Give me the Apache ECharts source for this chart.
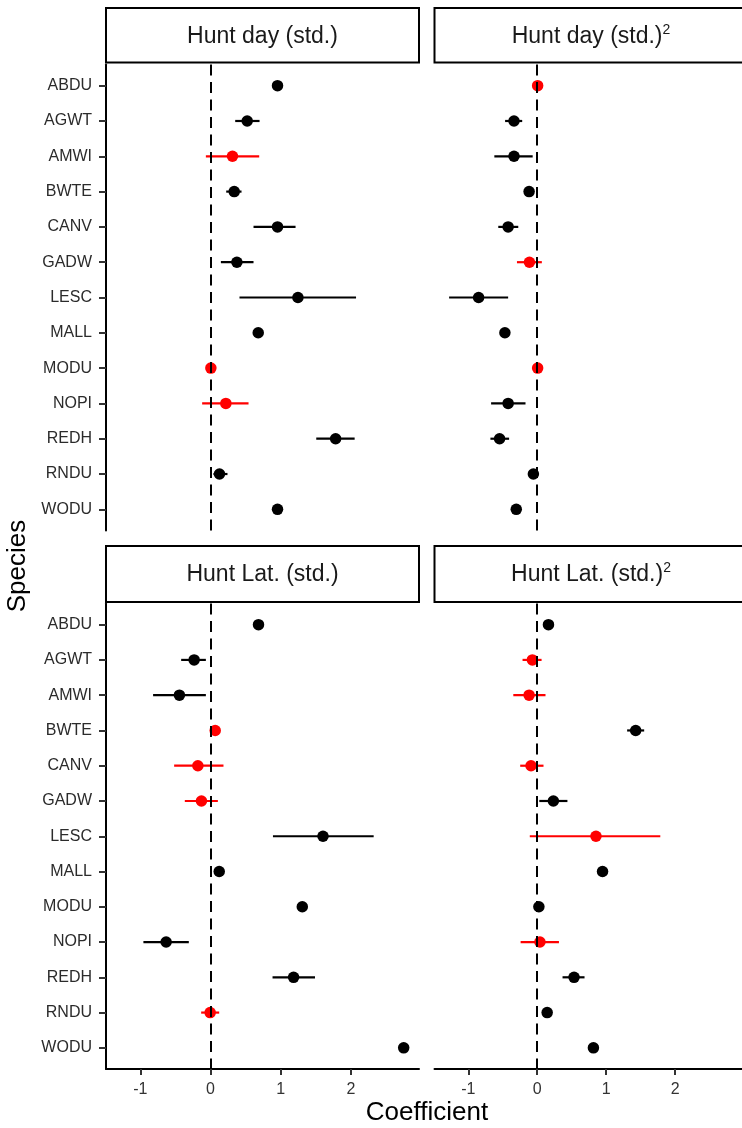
<!DOCTYPE html>
<html>
<head>
<meta charset="utf-8">
<script src="https://cdn.jsdelivr.net/npm/echarts@6/dist/echarts.min.js"></script>
<style>
  html, body { margin: 0; padding: 0; background: #ffffff; }
  #chart { width: 742px; height: 1128px; }
</style>
</head>
<body>
<div id="chart"></div>
<script>
// Species on the vertical axis (top to bottom)
const species = ['ABDU', 'AGWT', 'AMWI', 'BWTE', 'CANV', 'GADW', 'LESC',
                 'MALL', 'MODU', 'NOPI', 'REDH', 'RNDU', 'WODU'];

// Coefficient axis ticks
const xTicks = [-1, 0, 1, 2];

// Hunt day (std.)
const dayEst = [0.954, 0.522, 0.312, 0.337, 0.954, 0.375, 1.245, 0.679, 0.004, 0.218, 1.782, 0.127, 0.954];
const dayLo  = [0.930, 0.351, -0.067, 0.223, 0.612, 0.147, 0.412, 0.655, -0.020, -0.120, 1.506, 0.041, 0.930];
const dayHi  = [0.978, 0.698, 0.693, 0.441, 1.211, 0.612, 2.073, 0.703, 0.028, 0.541, 2.053, 0.241, 0.978];
const dayRed = [0, 0, 1, 0, 0, 0, 0, 0, 1, 1, 0, 0, 0];

// Hunt day (std.)^2
const daySqEst = [0.006, -0.337, -0.337, -0.118, -0.422, -0.113, -0.850, -0.469, 0.006, -0.422, -0.546, -0.056, -0.304];
const daySqLo  = [-0.018, -0.466, -0.622, -0.140, -0.565, -0.294, -1.278, -0.490, -0.018, -0.669, -0.679, -0.078, -0.325];
const daySqHi  = [0.030, -0.218, -0.066, -0.096, -0.275, 0.067, -0.422, -0.448, 0.030, -0.170, -0.408, -0.034, -0.283];
const daySqRed = [1, 0, 0, 0, 0, 1, 0, 0, 1, 0, 0, 0, 0];

// Hunt Lat. (std.)
const latEst = [0.683, -0.234, -0.444, 0.066, -0.181, -0.130, 1.602, 0.123, 1.307, -0.633, 1.183, -0.006, 2.752];
const latLo  = [0.660, -0.419, -0.819, 0.045, -0.519, -0.367, 0.889, 0.100, 1.285, -0.957, 0.883, -0.134, 2.730];
const latHi  = [0.706, -0.067, -0.067, 0.087, 0.184, 0.104, 2.324, 0.146, 1.329, -0.310, 1.488, 0.123, 2.774];
const latRed = [0, 0, 0, 1, 1, 1, 0, 0, 0, 0, 0, 1, 0];

// Hunt Lat. (std.)^2
const latSqEst = [0.163, -0.070, -0.118, 1.428, -0.090, 0.234, 0.852, 0.947, 0.024, 0.039, 0.534, 0.144, 0.815];
const latSqLo  = [0.140, -0.213, -0.347, 1.304, -0.247, 0.030, -0.108, 0.925, 0.002, -0.241, 0.367, 0.122, 0.793];
const latSqHi  = [0.186, 0.063, 0.120, 1.551, 0.091, 0.438, 1.785, 0.969, 0.046, 0.315, 0.686, 0.166, 0.837];
const latSqRed = [0, 1, 1, 0, 1, 0, 1, 0, 0, 1, 0, 0, 0];

const panels = [
  { title: 'Hunt day (std.)',  squared: false, est: dayEst,   lo: dayLo,   hi: dayHi,   red: dayRed },
  { title: 'Hunt day (std.)',  squared: true,  est: daySqEst, lo: daySqLo, hi: daySqHi, red: daySqRed },
  { title: 'Hunt Lat. (std.)', squared: false, est: latEst,   lo: latLo,   hi: latHi,   red: latRed },
  { title: 'Hunt Lat. (std.)', squared: true,  est: latSqEst, lo: latSqLo, hi: latSqHi, red: latSqRed }
];

const FONT = '"Liberation Sans", Arial, Helvetica, sans-serif';
const RED = '#ff0000';
const BLACK = '#000000';

// Panel layout (2 x 2 facets)
const colLeft = [106, 434.5];
const panelW = 313;
const rowTop = [64.5, 603.5];
const panelH = [466, 465.5];
const stripTop = [8, 546];
const stripH = [54.5, 56];

const grids = [], xAxes = [], yAxes = [], series = [], graphics = [];

panels.forEach((p, k) => {
  const row = Math.floor(k / 2), col = k % 2;
  const isBottom = row === 1, isLeft = col === 0;

  grids.push({ left: colLeft[col], top: rowTop[row], width: panelW, height: panelH[row], containLabel: false });

  xAxes.push({
    gridIndex: k, type: 'value', min: -1.49, max: 2.97,
    splitLine: { show: false },
    axisLine: { show: isBottom, onZero: false, lineStyle: { color: BLACK, width: 2 } },
    axisTick: { show: isBottom, length: 6, customValues: xTicks, lineStyle: { color: '#333333', width: 2 } },
    axisLabel: { show: isBottom, customValues: xTicks, margin: 13, fontSize: 16, color: '#333333', fontFamily: FONT }
  });

  yAxes.push({
    gridIndex: k, type: 'value', min: -0.6, max: 12.6, inverse: true,
    splitLine: { show: false },
    axisLine: { show: isLeft, onZero: false, lineStyle: { color: BLACK, width: 2 } },
    axisTick: { show: isLeft, length: 7, customValues: species.map((s, i) => i), lineStyle: { color: '#333333', width: 2 } },
    axisLabel: {
      show: isLeft, customValues: species.map((s, i) => i), margin: 14,
      fontSize: 16, color: '#2b2b2b', fontFamily: FONT,
      formatter: v => species[Math.round(v)]
    }
  });

  // dashed reference line at zero
  series.push({
    type: 'line', xAxisIndex: k, yAxisIndex: k, data: [], z: 1, silent: true,
    markLine: {
      silent: true, symbol: ['none', 'none'], label: { show: false },
      lineStyle: { color: BLACK, width: 2, type: [11, 6.5], opacity: 1 },
      emphasis: { disabled: true },
      data: [{ xAxis: 0 }]
    }
  });

  // confidence intervals
  series.push({
    type: 'custom', xAxisIndex: k, yAxisIndex: k, z: 2, silent: true,
    data: species.map((s, i) => [p.lo[i], p.hi[i], i, p.red[i]]),
    encode: { x: [0, 1], y: 2 },
    renderItem: (params, api) => {
      const a = api.coord([api.value(0), api.value(2)]);
      const b = api.coord([api.value(1), api.value(2)]);
      return {
        type: 'line',
        shape: { x1: a[0], y1: a[1], x2: b[0], y2: b[1] },
        style: { stroke: api.value(3) ? RED : BLACK, lineWidth: 2.2 }
      };
    }
  });

  // point estimates
  series.push({
    type: 'scatter', xAxisIndex: k, yAxisIndex: k, z: 3, silent: true,
    symbol: 'circle', symbolSize: 11.5,
    data: species.map((s, i) => ({
      value: [p.est[i], i],
      itemStyle: { color: p.red[i] ? RED : BLACK, opacity: 1 }
    }))
  });

  // facet strip
  const sx = colLeft[col], sy = stripTop[row];
  graphics.push({
    type: 'rect', z: 10,
    shape: { x: sx, y: sy, width: panelW, height: stripH[row] },
    style: { fill: '#ffffff', stroke: BLACK, lineWidth: 2 }
  });
  const stripText = p.squared ? '{m|' + p.title + '}{s|2}' : '{m|' + p.title + '}';
  graphics.push({
    type: 'text', z: 11,
    x: sx + 156.5, y: sy + stripH[row] / 2 + 1,
    style: {
      text: stripText, align: 'center', verticalAlign: 'middle',
      rich: {
        m: { fontSize: 23, fontFamily: FONT, fill: '#1a1a1a', lineHeight: 27 },
        s: { fontSize: 14, fontFamily: FONT, fill: '#1a1a1a', verticalAlign: 'top', lineHeight: 14 }
      }
    }
  });
});

// axis titles
graphics.push({
  type: 'text', x: 427, y: 1113,
  style: { text: 'Coefficient', fontSize: 26, fontFamily: FONT, fill: BLACK, align: 'center', verticalAlign: 'middle' }
});
graphics.push({
  type: 'text', x: 18, y: 566, rotation: Math.PI / 2,
  style: { text: 'Species', fontSize: 26, fontFamily: FONT, fill: BLACK, align: 'center', verticalAlign: 'middle' }
});

const chart = echarts.init(document.getElementById('chart'), null, { renderer: 'canvas' });
chart.setOption({
  animation: false,
  backgroundColor: '#ffffff',
  grid: grids,
  xAxis: xAxes,
  yAxis: yAxes,
  series: series,
  graphic: graphics
});
</script>
</body>
</html>
